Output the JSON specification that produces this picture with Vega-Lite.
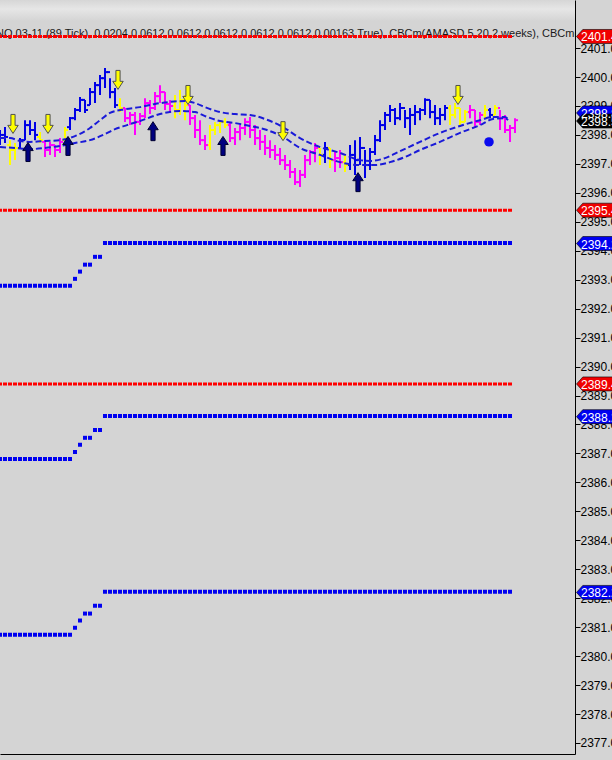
{
  "$schema": "https://vega.github.io/schema/vega-lite/v6.json",
  "width": 575,
  "height": 754,
  "autosize": {"type": "none"},
  "padding": {"left": 0, "top": 0, "right": 37, "bottom": 6},
  "background": "#d4d4d4",
  "config": {
    "view": {"stroke": null, "fill": {"gradient": "linear", "x1": 0, "y1": 0, "x2": 0, "y2": 1, "stops": [{"offset": 0, "color": "#d6d6d6"}, {"offset": 0.012, "color": "#e6e6e6"}, {"offset": 0.028, "color": "#d4d4d4"}, {"offset": 1, "color": "#d4d4d4"}]}},
    "font": "Liberation Sans",
    "axis": {"grid": false, "domainColor": "#000000", "domainWidth": 1, "tickColor": "#000000", "tickSize": 5, "labelColor": "#000000", "labelFont": "Liberation Sans", "labelFontSize": 12, "labelPadding": 0, "labelOverlap": false, "labelBound": false, "labelFlush": false},
    "axisX": {"labels": false, "ticks": false}
  },
  "datasets": {
    "red": [{"a": -0.4, "b": 102.4, "v": 2401.4}, {"a": -0.4, "b": 102.4, "v": 2395.4}, {"a": -0.4, "b": 102.4, "v": 2389.4}],
    "blueflat": [{"a": -0.4, "b": 14.4, "v": 2392.79}, {"a": 20.6, "b": 102.4, "v": 2394.27}, {"a": -0.4, "b": 14.4, "v": 2386.81}, {"a": 20.6, "b": 102.4, "v": 2388.29}, {"a": -0.4, "b": 14.4, "v": 2380.74}, {"a": 20.6, "b": 102.4, "v": 2382.22}],
    "bluestep": [
      {"i": 15, "v": 2393.03}, {"i": 16, "v": 2393.28}, {"i": 17, "v": 2393.52}, {"i": 18, "v": 2393.52}, {"i": 19, "v": 2393.79}, {"i": 20, "v": 2393.79},
      {"i": 15, "v": 2387.05}, {"i": 16, "v": 2387.30}, {"i": 17, "v": 2387.54}, {"i": 18, "v": 2387.54}, {"i": 19, "v": 2387.81}, {"i": 20, "v": 2387.81},
      {"i": 15, "v": 2380.98}, {"i": 16, "v": 2381.23}, {"i": 17, "v": 2381.47}, {"i": 18, "v": 2381.47}, {"i": 19, "v": 2381.74}, {"i": 20, "v": 2381.74}
    ],
    "bars": [
      {"i": 0, "o": 2397.82, "h": 2398.17, "l": 2397.65, "c": 2398.00, "k": "b"},
      {"i": 1, "o": 2398.00, "h": 2398.27, "l": 2397.72, "c": 2397.93, "k": "b"},
      {"i": 2, "o": 2397.65, "h": 2397.82, "l": 2396.96, "c": 2397.48, "k": "y"},
      {"i": 3, "o": 2397.48, "h": 2397.72, "l": 2397.13, "c": 2397.55, "k": "y"},
      {"i": 4, "o": 2397.55, "h": 2397.89, "l": 2397.55, "c": 2397.82, "k": "b"},
      {"i": 5, "o": 2397.82, "h": 2398.51, "l": 2397.82, "c": 2398.34, "k": "b"},
      {"i": 6, "o": 2398.34, "h": 2398.51, "l": 2398.00, "c": 2398.17, "k": "b"},
      {"i": 7, "o": 2398.17, "h": 2398.45, "l": 2397.82, "c": 2398.00, "k": "b"},
      {"i": 8, "o": 2397.93, "h": 2398.10, "l": 2397.72, "c": 2397.82, "k": "y"},
      {"i": 9, "o": 2397.76, "h": 2397.82, "l": 2397.24, "c": 2397.48, "k": "m"},
      {"i": 10, "o": 2397.48, "h": 2397.76, "l": 2397.31, "c": 2397.65, "k": "m"},
      {"i": 11, "o": 2397.65, "h": 2397.65, "l": 2397.24, "c": 2397.48, "k": "m"},
      {"i": 12, "o": 2397.48, "h": 2397.89, "l": 2397.38, "c": 2397.76, "k": "m"},
      {"i": 13, "o": 2397.82, "h": 2398.27, "l": 2397.82, "c": 2398.17, "k": "y"},
      {"i": 14, "o": 2398.27, "h": 2398.62, "l": 2398.17, "c": 2398.58, "k": "b"},
      {"i": 15, "o": 2398.58, "h": 2398.93, "l": 2398.51, "c": 2398.86, "k": "b"},
      {"i": 16, "o": 2398.86, "h": 2399.31, "l": 2398.79, "c": 2399.21, "k": "b"},
      {"i": 17, "o": 2399.21, "h": 2399.21, "l": 2398.76, "c": 2398.86, "k": "b"},
      {"i": 18, "o": 2399.03, "h": 2399.62, "l": 2399.03, "c": 2399.48, "k": "b"},
      {"i": 19, "o": 2399.48, "h": 2399.83, "l": 2399.10, "c": 2399.72, "k": "b"},
      {"i": 20, "o": 2399.72, "h": 2400.07, "l": 2399.38, "c": 2399.96, "k": "b"},
      {"i": 21, "o": 2399.96, "h": 2400.31, "l": 2399.62, "c": 2400.17, "k": "b"},
      {"i": 22, "o": 2400.17, "h": 2399.96, "l": 2399.27, "c": 2399.48, "k": "b"},
      {"i": 23, "o": 2399.48, "h": 2399.62, "l": 2398.93, "c": 2399.03, "k": "b"},
      {"i": 24, "o": 2399.03, "h": 2399.27, "l": 2398.79, "c": 2398.93, "k": "y"},
      {"i": 25, "o": 2398.93, "h": 2398.93, "l": 2398.45, "c": 2398.58, "k": "m"},
      {"i": 26, "o": 2398.58, "h": 2398.79, "l": 2398.34, "c": 2398.69, "k": "m"},
      {"i": 27, "o": 2398.69, "h": 2398.79, "l": 2398.00, "c": 2398.45, "k": "m"},
      {"i": 28, "o": 2398.45, "h": 2398.76, "l": 2398.34, "c": 2398.65, "k": "m"},
      {"i": 29, "o": 2398.65, "h": 2399.27, "l": 2398.58, "c": 2399.10, "k": "m"},
      {"i": 30, "o": 2399.10, "h": 2399.21, "l": 2398.72, "c": 2398.93, "k": "m"},
      {"i": 31, "o": 2398.93, "h": 2399.48, "l": 2398.86, "c": 2399.34, "k": "m"},
      {"i": 32, "o": 2399.34, "h": 2399.72, "l": 2399.10, "c": 2399.48, "k": "m"},
      {"i": 33, "o": 2399.48, "h": 2399.48, "l": 2398.86, "c": 2399.07, "k": "m"},
      {"i": 34, "o": 2399.07, "h": 2399.21, "l": 2398.76, "c": 2399.00, "k": "m"},
      {"i": 35, "o": 2399.00, "h": 2399.38, "l": 2398.58, "c": 2398.86, "k": "y"},
      {"i": 36, "o": 2398.86, "h": 2399.55, "l": 2398.69, "c": 2399.21, "k": "y"},
      {"i": 37, "o": 2399.21, "h": 2399.38, "l": 2398.51, "c": 2399.03, "k": "y"},
      {"i": 38, "o": 2399.03, "h": 2399.03, "l": 2398.34, "c": 2398.58, "k": "m"},
      {"i": 39, "o": 2398.58, "h": 2398.69, "l": 2397.89, "c": 2398.17, "k": "m"},
      {"i": 40, "o": 2398.17, "h": 2398.51, "l": 2397.65, "c": 2397.82, "k": "m"},
      {"i": 41, "o": 2397.82, "h": 2398.00, "l": 2397.48, "c": 2397.65, "k": "m"},
      {"i": 42, "o": 2397.65, "h": 2398.34, "l": 2397.48, "c": 2398.17, "k": "y"},
      {"i": 43, "o": 2398.17, "h": 2398.45, "l": 2398.00, "c": 2398.34, "k": "y"},
      {"i": 44, "o": 2398.34, "h": 2398.51, "l": 2398.07, "c": 2398.45, "k": "y"},
      {"i": 45, "o": 2398.45, "h": 2398.58, "l": 2398.24, "c": 2398.34, "k": "y"},
      {"i": 46, "o": 2398.34, "h": 2398.45, "l": 2397.76, "c": 2397.89, "k": "m"},
      {"i": 47, "o": 2397.89, "h": 2398.24, "l": 2397.65, "c": 2398.10, "k": "m"},
      {"i": 48, "o": 2398.10, "h": 2398.34, "l": 2397.82, "c": 2398.24, "k": "m"},
      {"i": 49, "o": 2398.24, "h": 2398.58, "l": 2398.00, "c": 2398.45, "k": "m"},
      {"i": 50, "o": 2398.45, "h": 2398.62, "l": 2397.89, "c": 2398.17, "k": "m"},
      {"i": 51, "o": 2398.17, "h": 2398.34, "l": 2397.65, "c": 2397.89, "k": "m"},
      {"i": 52, "o": 2397.89, "h": 2398.17, "l": 2397.48, "c": 2397.76, "k": "m"},
      {"i": 53, "o": 2397.76, "h": 2398.00, "l": 2397.31, "c": 2397.55, "k": "m"},
      {"i": 54, "o": 2397.55, "h": 2397.82, "l": 2397.20, "c": 2397.48, "k": "m"},
      {"i": 55, "o": 2397.48, "h": 2397.65, "l": 2397.13, "c": 2397.31, "k": "m"},
      {"i": 56, "o": 2397.31, "h": 2397.55, "l": 2396.96, "c": 2397.13, "k": "m"},
      {"i": 57, "o": 2397.13, "h": 2397.31, "l": 2396.79, "c": 2396.96, "k": "m"},
      {"i": 58, "o": 2396.96, "h": 2397.13, "l": 2396.51, "c": 2396.72, "k": "m"},
      {"i": 59, "o": 2396.72, "h": 2396.86, "l": 2396.27, "c": 2396.37, "k": "m"},
      {"i": 60, "o": 2396.37, "h": 2396.79, "l": 2396.20, "c": 2396.62, "k": "m"},
      {"i": 61, "o": 2396.62, "h": 2397.31, "l": 2396.51, "c": 2397.13, "k": "m"},
      {"i": 62, "o": 2397.13, "h": 2397.48, "l": 2396.96, "c": 2397.41, "k": "m"},
      {"i": 63, "o": 2397.41, "h": 2397.72, "l": 2397.06, "c": 2397.55, "k": "m"},
      {"i": 64, "o": 2397.55, "h": 2397.55, "l": 2396.96, "c": 2397.31, "k": "y"},
      {"i": 65, "o": 2397.31, "h": 2397.76, "l": 2397.03, "c": 2397.55, "k": "b"},
      {"i": 66, "o": 2397.55, "h": 2397.55, "l": 2396.86, "c": 2397.13, "k": "y"},
      {"i": 67, "o": 2397.13, "h": 2397.41, "l": 2396.72, "c": 2397.20, "k": "m"},
      {"i": 68, "o": 2397.20, "h": 2397.48, "l": 2396.86, "c": 2397.06, "k": "m"},
      {"i": 69, "o": 2397.06, "h": 2397.31, "l": 2396.72, "c": 2396.96, "k": "y"},
      {"i": 70, "o": 2396.96, "h": 2397.65, "l": 2396.79, "c": 2397.31, "k": "b"},
      {"i": 71, "o": 2397.31, "h": 2397.82, "l": 2396.62, "c": 2397.13, "k": "b"},
      {"i": 72, "o": 2397.13, "h": 2397.93, "l": 2396.96, "c": 2397.55, "k": "b"},
      {"i": 73, "o": 2397.55, "h": 2397.48, "l": 2396.51, "c": 2396.96, "k": "b"},
      {"i": 74, "o": 2396.96, "h": 2397.55, "l": 2396.79, "c": 2397.41, "k": "b"},
      {"i": 75, "o": 2397.41, "h": 2398.00, "l": 2397.31, "c": 2397.82, "k": "b"},
      {"i": 76, "o": 2397.82, "h": 2398.51, "l": 2397.76, "c": 2398.34, "k": "b"},
      {"i": 77, "o": 2398.34, "h": 2398.79, "l": 2398.17, "c": 2398.69, "k": "b"},
      {"i": 78, "o": 2398.69, "h": 2399.03, "l": 2398.45, "c": 2398.86, "k": "b"},
      {"i": 79, "o": 2398.86, "h": 2398.93, "l": 2398.34, "c": 2398.58, "k": "b"},
      {"i": 80, "o": 2398.58, "h": 2399.10, "l": 2398.51, "c": 2398.93, "k": "b"},
      {"i": 81, "o": 2398.93, "h": 2398.86, "l": 2398.24, "c": 2398.58, "k": "b"},
      {"i": 82, "o": 2398.58, "h": 2398.93, "l": 2398.00, "c": 2398.69, "k": "b"},
      {"i": 83, "o": 2398.69, "h": 2399.03, "l": 2398.34, "c": 2398.79, "k": "b"},
      {"i": 84, "o": 2398.79, "h": 2398.93, "l": 2398.51, "c": 2398.86, "k": "b"},
      {"i": 85, "o": 2398.86, "h": 2399.27, "l": 2398.69, "c": 2399.21, "k": "b"},
      {"i": 86, "o": 2399.21, "h": 2399.21, "l": 2398.58, "c": 2398.79, "k": "b"},
      {"i": 87, "o": 2398.79, "h": 2399.03, "l": 2398.34, "c": 2398.58, "k": "b"},
      {"i": 88, "o": 2398.58, "h": 2398.93, "l": 2398.34, "c": 2398.69, "k": "b"},
      {"i": 89, "o": 2398.69, "h": 2399.03, "l": 2398.51, "c": 2398.93, "k": "b"},
      {"i": 90, "o": 2398.93, "h": 2399.03, "l": 2398.34, "c": 2398.69, "k": "y"},
      {"i": 91, "o": 2398.69, "h": 2399.10, "l": 2398.58, "c": 2398.93, "k": "y"},
      {"i": 92, "o": 2398.93, "h": 2398.93, "l": 2398.27, "c": 2398.45, "k": "y"},
      {"i": 93, "o": 2398.45, "h": 2398.86, "l": 2398.45, "c": 2398.79, "k": "y"},
      {"i": 94, "o": 2398.79, "h": 2399.03, "l": 2398.58, "c": 2398.86, "k": "m"},
      {"i": 95, "o": 2398.86, "h": 2398.86, "l": 2398.24, "c": 2398.45, "k": "m"},
      {"i": 96, "o": 2398.45, "h": 2398.79, "l": 2398.34, "c": 2398.69, "k": "m"},
      {"i": 97, "o": 2398.69, "h": 2399.03, "l": 2398.58, "c": 2398.86, "k": "y"},
      {"i": 98, "o": 2398.86, "h": 2398.93, "l": 2398.58, "c": 2398.69, "k": "b"},
      {"i": 99, "o": 2398.69, "h": 2399.03, "l": 2398.69, "c": 2398.93, "k": "y"},
      {"i": 100, "o": 2398.93, "h": 2398.86, "l": 2398.17, "c": 2398.58, "k": "m"},
      {"i": 101, "o": 2398.58, "h": 2398.69, "l": 2398.07, "c": 2398.17, "k": "m"},
      {"i": 102, "o": 2398.17, "h": 2398.34, "l": 2397.76, "c": 2398.24, "k": "m"},
      {"i": 103, "o": 2398.24, "h": 2398.58, "l": 2398.07, "c": 2398.51, "k": "m"}
    ],
    "up": [
      {"i": 0, "v": 2397.89}, {"i": 2, "v": 2397.89}, {"i": 4, "v": 2397.79}, {"i": 6, "v": 2397.76}, {"i": 9, "v": 2397.79}, {"i": 12, "v": 2397.82}, {"i": 15, "v": 2397.96}, {"i": 18, "v": 2398.24}, {"i": 20, "v": 2398.51}, {"i": 22, "v": 2398.76}, {"i": 25, "v": 2398.89}, {"i": 28, "v": 2398.96}, {"i": 31, "v": 2399.07}, {"i": 34, "v": 2399.14}, {"i": 37, "v": 2399.17}, {"i": 39, "v": 2399.10}, {"i": 41, "v": 2398.96}, {"i": 44, "v": 2398.79}, {"i": 47, "v": 2398.72}, {"i": 50, "v": 2398.69}, {"i": 53, "v": 2398.55}, {"i": 56.6, "v": 2398.27}, {"i": 60, "v": 2397.89}, {"i": 64, "v": 2397.58}, {"i": 68, "v": 2397.38}, {"i": 72, "v": 2397.13}, {"i": 74, "v": 2397.10}, {"i": 77, "v": 2397.20}, {"i": 80, "v": 2397.44}, {"i": 84, "v": 2397.76}, {"i": 88, "v": 2398.07}, {"i": 92, "v": 2398.31}, {"i": 96, "v": 2398.51}, {"i": 98.6, "v": 2398.62}, {"i": 101, "v": 2398.62}, {"i": 101.6, "v": 2398.55}
    ],
    "lo": [
      {"i": 0, "v": 2397.58}, {"i": 3, "v": 2397.55}, {"i": 6, "v": 2397.51}, {"i": 9, "v": 2397.55}, {"i": 12, "v": 2397.62}, {"i": 15, "v": 2397.72}, {"i": 18, "v": 2397.82}, {"i": 21, "v": 2398.03}, {"i": 23, "v": 2398.20}, {"i": 25.4, "v": 2398.34}, {"i": 28, "v": 2398.48}, {"i": 32, "v": 2398.72}, {"i": 36, "v": 2398.83}, {"i": 39, "v": 2398.79}, {"i": 41, "v": 2398.65}, {"i": 44, "v": 2398.48}, {"i": 47, "v": 2398.41}, {"i": 50, "v": 2398.31}, {"i": 53.4, "v": 2398.17}, {"i": 56.6, "v": 2397.93}, {"i": 60, "v": 2397.55}, {"i": 64, "v": 2397.31}, {"i": 68, "v": 2397.06}, {"i": 72, "v": 2396.96}, {"i": 75, "v": 2396.96}, {"i": 78, "v": 2397.06}, {"i": 81, "v": 2397.24}, {"i": 84, "v": 2397.48}, {"i": 88, "v": 2397.76}, {"i": 92, "v": 2398.07}, {"i": 96, "v": 2398.34}, {"i": 98.6, "v": 2398.55}, {"i": 101, "v": 2398.58}, {"i": 101.6, "v": 2398.51}
    ],
    "downarrows": [{"i": 2.6, "v": 2398.38}, {"i": 9.6, "v": 2398.38}, {"i": 23.6, "v": 2399.90}, {"i": 37.6, "v": 2399.38}, {"i": 56.6, "v": 2398.13}, {"i": 91.6, "v": 2399.38}],
    "uparrows": [{"i": 5.6, "v": 2397.41}, {"i": 13.6, "v": 2397.62}, {"i": 30.6, "v": 2398.13}, {"i": 44.6, "v": 2397.62}, {"i": 71.6, "v": 2396.37}],
    "dot": [{"i": 97.8, "v": 2397.76}],
    "header": [{"i": -0.8, "v": 2401.47, "t": "NQ 03-11 (89 Tick), 0.0204,0.0612,0.0612,0.0612,0.0612,0.0612,0.00163,True), CBCm(AMASD,5,20,2 weeks), CBCm(AMASD"}],
    "tags": [
      {"i": 115.3, "ti": 116.2, "v": 2401.4, "t": "2401.4", "k": "r"},
      {"i": 115.3, "ti": 116.2, "v": 2395.4, "t": "2395.4", "k": "r"},
      {"i": 115.3, "ti": 116.2, "v": 2394.25, "t": "2394.2", "k": "b"},
      {"i": 115.3, "ti": 116.2, "v": 2389.4, "t": "2389.4", "k": "r"},
      {"i": 115.3, "ti": 116.2, "v": 2388.27, "t": "2388.2", "k": "b"},
      {"i": 115.3, "ti": 116.2, "v": 2382.2, "t": "2382.2", "k": "b"},
      {"i": 115.3, "ti": 116.2, "v": 2398.76, "t": "2398.8", "k": "b"},
      {"i": 115.3, "ti": 116.2, "v": 2398.48, "t": "2398.5", "k": "k"}
    ]
  },
  "layer": [
    {
      "data": {"name": "header"},
      "mark": {"type": "text", "align": "left", "baseline": "middle", "font": "Liberation Sans", "fontSize": 11, "color": "#1a1a1a", "clip": true},
      "encoding": {
        "x": {"field": "i", "type": "quantitative", "scale": {"domain": [0, 115], "nice": false, "zero": false}, "axis": {"orient": "bottom", "title": null}},
        "y": {"field": "v", "type": "quantitative", "scale": {"domain": [2376.62, 2402.66], "nice": false, "zero": false}, "axis": {"orient": "right", "title": null, "format": ".1f", "values": [2377, 2378, 2379, 2380, 2381, 2382, 2383, 2384, 2385, 2386, 2387, 2388, 2389, 2390, 2391, 2392, 2393, 2394, 2395, 2396, 2397, 2398, 2399, 2400, 2401]}},
        "text": {"field": "t"}
      }
    },
    {
      "data": {"name": "red"},
      "mark": {"type": "rule", "color": "#ff0000", "strokeWidth": 3, "strokeDash": [4, 1]},
      "encoding": {
        "x": {"field": "a", "type": "quantitative", "scale": {"domain": [0, 115], "nice": false, "zero": false}, "axis": {"orient": "bottom", "title": null}},
        "x2": {"field": "b"},
        "y": {"field": "v", "type": "quantitative", "scale": {"domain": [2376.62, 2402.66], "nice": false, "zero": false}, "axis": {"orient": "right", "title": null, "format": ".1f", "values": [2377, 2378, 2379, 2380, 2381, 2382, 2383, 2384, 2385, 2386, 2387, 2388, 2389, 2390, 2391, 2392, 2393, 2394, 2395, 2396, 2397, 2398, 2399, 2400, 2401]}}
      }
    },
    {
      "data": {"name": "blueflat"},
      "mark": {"type": "rule", "color": "#0000f0", "strokeWidth": 4, "strokeDash": [4, 1]},
      "encoding": {
        "x": {"field": "a", "type": "quantitative", "scale": {"domain": [0, 115], "nice": false, "zero": false}, "axis": {"orient": "bottom", "title": null}},
        "x2": {"field": "b"},
        "y": {"field": "v", "type": "quantitative", "scale": {"domain": [2376.62, 2402.66], "nice": false, "zero": false}, "axis": {"orient": "right", "title": null, "format": ".1f", "values": [2377, 2378, 2379, 2380, 2381, 2382, 2383, 2384, 2385, 2386, 2387, 2388, 2389, 2390, 2391, 2392, 2393, 2394, 2395, 2396, 2397, 2398, 2399, 2400, 2401]}}
      }
    },
    {
      "data": {"name": "bluestep"},
      "mark": {"type": "point", "shape": "square", "filled": true, "size": 16, "color": "#0000f0", "opacity": 1},
      "encoding": {
        "x": {"field": "i", "type": "quantitative", "scale": {"domain": [0, 115], "nice": false, "zero": false}, "axis": {"orient": "bottom", "title": null}},
        "y": {"field": "v", "type": "quantitative", "scale": {"domain": [2376.62, 2402.66], "nice": false, "zero": false}, "axis": {"orient": "right", "title": null, "format": ".1f", "values": [2377, 2378, 2379, 2380, 2381, 2382, 2383, 2384, 2385, 2386, 2387, 2388, 2389, 2390, 2391, 2392, 2393, 2394, 2395, 2396, 2397, 2398, 2399, 2400, 2401]}}
      }
    },
    {
      "data": {"name": "bars"},
      "mark": {"type": "rule", "strokeWidth": 2},
      "encoding": {
        "x": {"field": "i", "type": "quantitative", "scale": {"domain": [0, 115], "nice": false, "zero": false}, "axis": {"orient": "bottom", "title": null}},
        "y": {"field": "l", "type": "quantitative", "scale": {"domain": [2376.62, 2402.66], "nice": false, "zero": false}, "axis": {"orient": "right", "title": null, "format": ".1f", "values": [2377, 2378, 2379, 2380, 2381, 2382, 2383, 2384, 2385, 2386, 2387, 2388, 2389, 2390, 2391, 2392, 2393, 2394, 2395, 2396, 2397, 2398, 2399, 2400, 2401]}},
        "y2": {"field": "h"},
        "color": {"field": "k", "type": "nominal", "scale": {"domain": ["b", "m", "y"], "range": ["#0000e6", "#ff00ff", "#ffff00"]}, "legend": null}
      }
    },
    {
      "data": {"name": "bars"},
      "mark": {"type": "tick", "orient": "horizontal", "size": 3, "thickness": 2, "xOffset": -1.5, "opacity": 1},
      "encoding": {
        "x": {"field": "i", "type": "quantitative", "scale": {"domain": [0, 115], "nice": false, "zero": false}, "axis": {"orient": "bottom", "title": null}},
        "y": {"field": "o", "type": "quantitative", "scale": {"domain": [2376.62, 2402.66], "nice": false, "zero": false}, "axis": {"orient": "right", "title": null, "format": ".1f", "values": [2377, 2378, 2379, 2380, 2381, 2382, 2383, 2384, 2385, 2386, 2387, 2388, 2389, 2390, 2391, 2392, 2393, 2394, 2395, 2396, 2397, 2398, 2399, 2400, 2401]}},
        "color": {"field": "k", "type": "nominal", "scale": {"domain": ["b", "m", "y"], "range": ["#0000e6", "#ff00ff", "#ffff00"]}, "legend": null}
      }
    },
    {
      "data": {"name": "bars"},
      "mark": {"type": "tick", "orient": "horizontal", "size": 3, "thickness": 2, "xOffset": 1.5, "opacity": 1},
      "encoding": {
        "x": {"field": "i", "type": "quantitative", "scale": {"domain": [0, 115], "nice": false, "zero": false}, "axis": {"orient": "bottom", "title": null}},
        "y": {"field": "c", "type": "quantitative", "scale": {"domain": [2376.62, 2402.66], "nice": false, "zero": false}, "axis": {"orient": "right", "title": null, "format": ".1f", "values": [2377, 2378, 2379, 2380, 2381, 2382, 2383, 2384, 2385, 2386, 2387, 2388, 2389, 2390, 2391, 2392, 2393, 2394, 2395, 2396, 2397, 2398, 2399, 2400, 2401]}},
        "color": {"field": "k", "type": "nominal", "scale": {"domain": ["b", "m", "y"], "range": ["#0000e6", "#ff00ff", "#ffff00"]}, "legend": null}
      }
    },
    {
      "data": {"name": "up"},
      "mark": {"type": "line", "color": "#1a1ad8", "strokeWidth": 2, "strokeDash": [6, 3], "interpolate": "monotone"},
      "encoding": {
        "x": {"field": "i", "type": "quantitative", "scale": {"domain": [0, 115], "nice": false, "zero": false}, "axis": {"orient": "bottom", "title": null}},
        "y": {"field": "v", "type": "quantitative", "scale": {"domain": [2376.62, 2402.66], "nice": false, "zero": false}, "axis": {"orient": "right", "title": null, "format": ".1f", "values": [2377, 2378, 2379, 2380, 2381, 2382, 2383, 2384, 2385, 2386, 2387, 2388, 2389, 2390, 2391, 2392, 2393, 2394, 2395, 2396, 2397, 2398, 2399, 2400, 2401]}}
      }
    },
    {
      "data": {"name": "lo"},
      "mark": {"type": "line", "color": "#1a1ad8", "strokeWidth": 2, "strokeDash": [6, 3], "interpolate": "monotone"},
      "encoding": {
        "x": {"field": "i", "type": "quantitative", "scale": {"domain": [0, 115], "nice": false, "zero": false}, "axis": {"orient": "bottom", "title": null}},
        "y": {"field": "v", "type": "quantitative", "scale": {"domain": [2376.62, 2402.66], "nice": false, "zero": false}, "axis": {"orient": "right", "title": null, "format": ".1f", "values": [2377, 2378, 2379, 2380, 2381, 2382, 2383, 2384, 2385, 2386, 2387, 2388, 2389, 2390, 2391, 2392, 2393, 2394, 2395, 2396, 2397, 2398, 2399, 2400, 2401]}}
      }
    },
    {
      "data": {"name": "downarrows"},
      "mark": {"type": "point", "shape": "M-0.22,-1 L0.22,-1 L0.22,0.15 L0.55,0.15 L0,1 L-0.55,0.15 L-0.22,0.15 Z", "size": 361, "filled": true, "fill": "#ffff00", "stroke": "#505050", "strokeWidth": 1, "opacity": 1, "fillOpacity": 1},
      "encoding": {
        "x": {"field": "i", "type": "quantitative", "scale": {"domain": [0, 115], "nice": false, "zero": false}, "axis": {"orient": "bottom", "title": null}},
        "y": {"field": "v", "type": "quantitative", "scale": {"domain": [2376.62, 2402.66], "nice": false, "zero": false}, "axis": {"orient": "right", "title": null, "format": ".1f", "values": [2377, 2378, 2379, 2380, 2381, 2382, 2383, 2384, 2385, 2386, 2387, 2388, 2389, 2390, 2391, 2392, 2393, 2394, 2395, 2396, 2397, 2398, 2399, 2400, 2401]}}
      }
    },
    {
      "data": {"name": "uparrows"},
      "mark": {"type": "point", "shape": "M-0.22,1 L0.22,1 L0.22,-0.15 L0.55,-0.15 L0,-1 L-0.55,-0.15 L-0.22,-0.15 Z", "size": 361, "filled": true, "fill": "#000080", "stroke": "#000030", "strokeWidth": 1, "opacity": 1, "fillOpacity": 1},
      "encoding": {
        "x": {"field": "i", "type": "quantitative", "scale": {"domain": [0, 115], "nice": false, "zero": false}, "axis": {"orient": "bottom", "title": null}},
        "y": {"field": "v", "type": "quantitative", "scale": {"domain": [2376.62, 2402.66], "nice": false, "zero": false}, "axis": {"orient": "right", "title": null, "format": ".1f", "values": [2377, 2378, 2379, 2380, 2381, 2382, 2383, 2384, 2385, 2386, 2387, 2388, 2389, 2390, 2391, 2392, 2393, 2394, 2395, 2396, 2397, 2398, 2399, 2400, 2401]}}
      }
    },
    {
      "data": {"name": "dot"},
      "mark": {"type": "circle", "size": 90, "color": "#0a0aee", "opacity": 1},
      "encoding": {
        "x": {"field": "i", "type": "quantitative", "scale": {"domain": [0, 115], "nice": false, "zero": false}, "axis": {"orient": "bottom", "title": null}},
        "y": {"field": "v", "type": "quantitative", "scale": {"domain": [2376.62, 2402.66], "nice": false, "zero": false}, "axis": {"orient": "right", "title": null, "format": ".1f", "values": [2377, 2378, 2379, 2380, 2381, 2382, 2383, 2384, 2385, 2386, 2387, 2388, 2389, 2390, 2391, 2392, 2393, 2394, 2395, 2396, 2397, 2398, 2399, 2400, 2401]}}
      }
    },
    {
      "data": {"name": "tags"},
      "mark": {"type": "point", "shape": "M0,0 L0.9,-1 L9,-1 L9,1 L0.9,1 Z", "size": 196, "filled": true, "opacity": 1, "stroke": "#000000", "strokeWidth": 0.6},
      "encoding": {
        "x": {"field": "i", "type": "quantitative", "scale": {"domain": [0, 115], "nice": false, "zero": false}, "axis": {"orient": "bottom", "title": null}},
        "y": {"field": "v", "type": "quantitative", "scale": {"domain": [2376.62, 2402.66], "nice": false, "zero": false}, "axis": {"orient": "right", "title": null, "format": ".1f", "values": [2377, 2378, 2379, 2380, 2381, 2382, 2383, 2384, 2385, 2386, 2387, 2388, 2389, 2390, 2391, 2392, 2393, 2394, 2395, 2396, 2397, 2398, 2399, 2400, 2401]}},
        "fill": {"field": "k", "type": "nominal", "scale": {"domain": ["r", "b", "k"], "range": ["#f00000", "#0000f0", "#000000"]}, "legend": null}
      }
    },
    {
      "data": {"name": "tags"},
      "mark": {"type": "text", "align": "left", "baseline": "middle", "font": "Liberation Sans", "fontSize": 12, "color": "#ffffff", "dy": 1},
      "encoding": {
        "x": {"field": "ti", "type": "quantitative", "scale": {"domain": [0, 115], "nice": false, "zero": false}, "axis": {"orient": "bottom", "title": null}},
        "y": {"field": "v", "type": "quantitative", "scale": {"domain": [2376.62, 2402.66], "nice": false, "zero": false}, "axis": {"orient": "right", "title": null, "format": ".1f", "values": [2377, 2378, 2379, 2380, 2381, 2382, 2383, 2384, 2385, 2386, 2387, 2388, 2389, 2390, 2391, 2392, 2393, 2394, 2395, 2396, 2397, 2398, 2399, 2400, 2401]}},
        "text": {"field": "t"}
      }
    }
  ]
}
